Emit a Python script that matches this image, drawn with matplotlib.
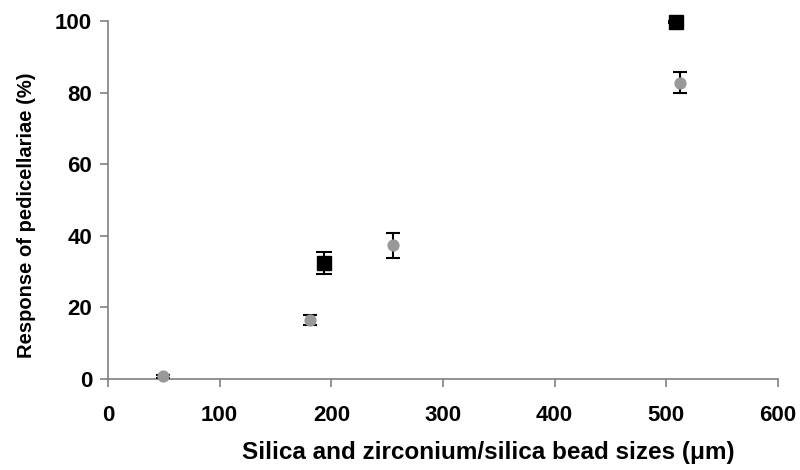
import numpy as np
import matplotlib.pyplot as plt

plt.rcParams['font.family'] = ['Liberation Sans', 'DejaVu Sans']

# gray circles
gx = [49, 181, 255, 512]
gy = [0.8, 16.5, 37.3, 82.8]
gerr = [0.4, 1.3, 3.6, 3.0]

# black squares
bx = [193, 509]
by = [32.4, 99.8]
berr = [3.2, 0.3]

fig = plt.figure(figsize=(8, 4.7), dpi=100)
ax = fig.add_axes([0.135, 0.1936, 0.8375, 0.7617])

ax.errorbar(gx, gy, yerr=gerr, fmt='o', color='#999999', ms=7.8, mec='#999999',
            ecolor='black', elinewidth=1.5, capsize=5.3, capthick=1.5, zorder=3)
ax.errorbar(bx, by, yerr=berr, fmt='s', color='black', ms=9.6,
            ecolor='black', elinewidth=1.5, capsize=5.6, capthick=1.5, zorder=3)

ax.set_xlim(0, 600)
ax.set_ylim(0, 100)
ax.set_xticks(np.arange(0, 601, 100))
ax.set_yticks(np.arange(0, 101, 20))
for s in ['top', 'right']:
    ax.spines[s].set_visible(False)
for s in ['left', 'bottom']:
    ax.spines[s].set_color('#808080')
    ax.spines[s].set_linewidth(1.2)
ax.tick_params(colors='#808080', length=5.5, width=1.2, labelcolor='black',
               labelsize=16)
ax.tick_params(axis='x', pad=13)
ax.tick_params(axis='y', pad=6)
for lab in ax.get_xticklabels() + ax.get_yticklabels():
    lab.set_fontweight('bold')
ax.set_xlabel('Silica and zirconium/silica bead sizes (μm)', fontsize=17.5,
              fontweight='bold')
ax.set_ylabel('Response of pedicellariae (%)', fontsize=14.5,
              fontweight='bold')
ax.xaxis.set_label_coords(0.567, -0.172)
ax.yaxis.set_label_coords(-0.107, 0.458)
for l in ax.lines:
    l.set_clip_on(False)

fig.savefig('out.png', dpi=100)
